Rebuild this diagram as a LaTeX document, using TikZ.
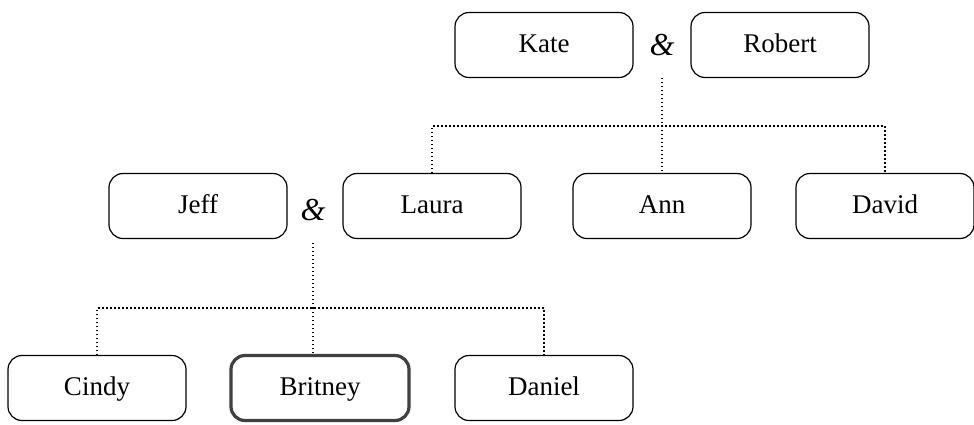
\documentclass[tikz,border=0pt]{standalone}
\usepackage{fontspec}
\setmainfont{Liberation Serif}
\begin{document}
\begin{tikzpicture}[x=1pt,y=-1pt,
        person/.style={draw, line width=1.2pt, rounded corners=14pt,
            minimum width=178pt, minimum height=65pt,
            text height=19pt, text depth=5pt,
            font=\fontsize{27}{30}\selectfont},
        amp/.style={minimum height=65pt, inner sep=0pt,
            font=\fontsize{32}{36}\selectfont\itshape},
        kin/.style={line width=1.4pt, dash pattern=on 1.4pt off 2.6pt}]
            \useasboundingbox (0,0) rectangle (974,424);

            \node[person] (kate)   at (544, 45) {Kate};
            \node[amp]    (amp1)   at (662, 45) {\&};
            \node[person] (robert) at (780, 45) {Robert};

            \node[person] (jeff)  at (198, 206) {Jeff};
            \node[amp]    (amp2)  at (313, 210) {\&};
            \node[person] (laura) at (432, 206) {Laura};
            \node[person] (ann)   at (662, 206) {Ann};
            \node[person] (david) at (885, 206) {David};

            \node[person] (cindy)   at (97, 388) {Cindy};
            \node[person, line width=3.2pt, draw=black!75] (britney) at (320, 388) {Britney};
            \node[person] (daniel)  at (544, 388) {Daniel};

            \coordinate (bar1) at (662, 126);
            \coordinate (bar2) at (313, 308);

            \draw[kin] (amp1.south) -- (bar1);
            \draw[kin] (laura.north) |- (bar1) -| (david.north);
            \draw[kin] (bar1) -- (ann.north);

            \draw[kin] (amp2.south) -- (bar2);
            \draw[kin] (cindy.north) |- (bar2) -| (daniel.north);
            \draw[kin] (bar2) -- (bar2 |- britney.north);
        \end{tikzpicture}
\end{document}
